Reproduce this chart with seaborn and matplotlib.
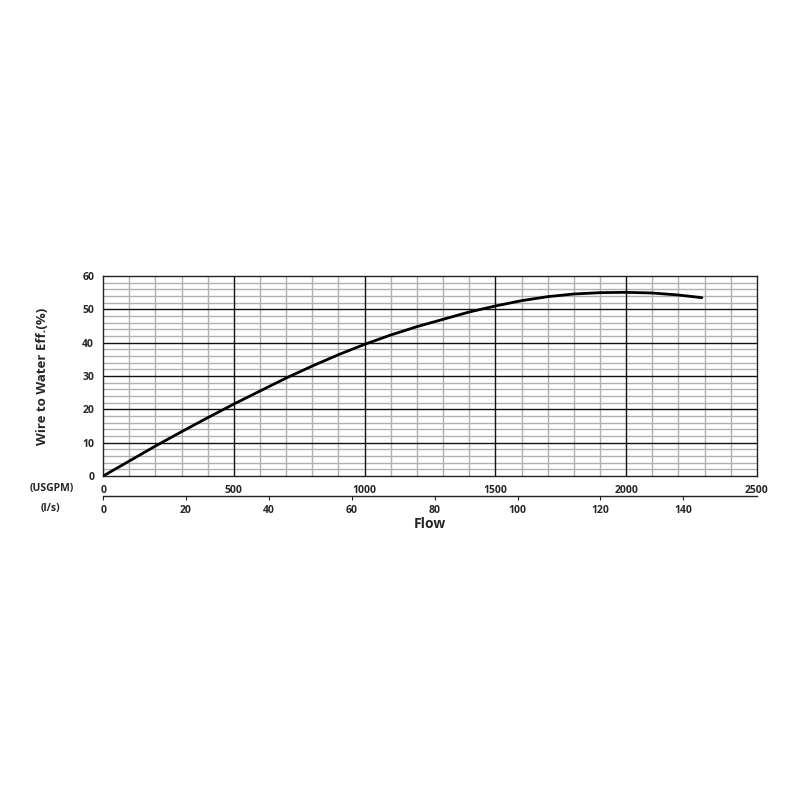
import matplotlib
matplotlib.use("Agg")
import matplotlib.pyplot as plt
import seaborn as sns
import pandas as pd
from matplotlib.ticker import MultipleLocator

flow_gpm = [0, 100, 200, 300, 400, 500, 600, 700, 800, 900, 1000, 1100, 1200,
            1300, 1400, 1500, 1600, 1700, 1800, 1900, 2000, 2100, 2200, 2290]
eff = [0, 4.5, 9.0, 13.3, 17.5, 21.6, 25.5, 29.4, 33.0, 36.4, 39.5, 42.3, 44.8,
       47.0, 49.2, 51.0, 52.6, 53.8, 54.6, 55.0, 55.1, 54.9, 54.3, 53.5]
gpm_ticks = [0, 500, 1000, 1500, 2000, 2500]
ls_ticks = [0, 20, 40, 60, 80, 100, 120, 140]
y_ticks = [0, 10, 20, 30, 40, 50, 60]
GPM_PER_LS = 15.85

df = pd.DataFrame({"flow": flow_gpm, "eff": eff})

sns.set_style("white")
plt.rcParams['font.family'] = ['Open Sans', 'DejaVu Sans']

fig = plt.figure(figsize=(8, 8), dpi=100)
ax = fig.add_axes([0.129, 0.405, 0.817, 0.25])

ax.set_xlim(0, 2500)
ax.set_ylim(0, 60)
ax.xaxis.set_minor_locator(MultipleLocator(100))
ax.yaxis.set_minor_locator(MultipleLocator(2))
ax.grid(which='minor', color='#b0b0b0', linewidth=1.0, zorder=0.5)
ax.grid(which='major', visible=False)
ax.set_axisbelow(True)

# major grid drawn above minor grid
ax.vlines(gpm_ticks[1:-1], 0, 60, colors='#111111', linewidth=1.0, zorder=1.2)
ax.hlines(y_ticks[1:-1], 0, 2500, colors='#111111', linewidth=1.0, zorder=1.2)

sns.lineplot(data=df, x="flow", y="eff", color='black', linewidth=2.0, ax=ax, zorder=3)

for s in ax.spines.values():
    s.set_color('#222222')
    s.set_linewidth(1.0)

ax.set_xticks(gpm_ticks)
ax.set_yticks(y_ticks)
ax.tick_params(axis='both', which='major', labelsize=7.5, length=3, color='#222222', width=0.8)
ax.tick_params(axis='both', which='minor', length=0)
for lbl in ax.get_xticklabels() + ax.get_yticklabels():
    lbl.set_fontweight('bold')
ax.set_xlabel("")
ax.set_ylabel("Wire to Water Eff.(%)", fontsize=9.5, fontweight='bold', labelpad=24)

sec = ax.secondary_xaxis(-0.1, functions=(lambda x: x / GPM_PER_LS, lambda x: x * GPM_PER_LS))
sec.set_xticks(ls_ticks)
sec.tick_params(labelsize=7.5, length=3, width=0.8, color='#222222')
for lbl in sec.get_xticklabels():
    lbl.set_fontweight('bold')
sec.spines['bottom'].set_color('#222222')
sec.spines['bottom'].set_linewidth(1.0)
sec.set_xlabel("Flow", fontsize=10, fontweight='bold', labelpad=1)

ax.text(-0.045, -0.06, "(USGPM)", transform=ax.transAxes, ha='right', va='center',
        fontsize=7.5, fontweight='bold')
ax.text(-0.065, -0.165, "(l/s)", transform=ax.transAxes, ha='right', va='center',
        fontsize=7.5, fontweight='bold')

fig.savefig("out.png", dpi=100, facecolor='white')
